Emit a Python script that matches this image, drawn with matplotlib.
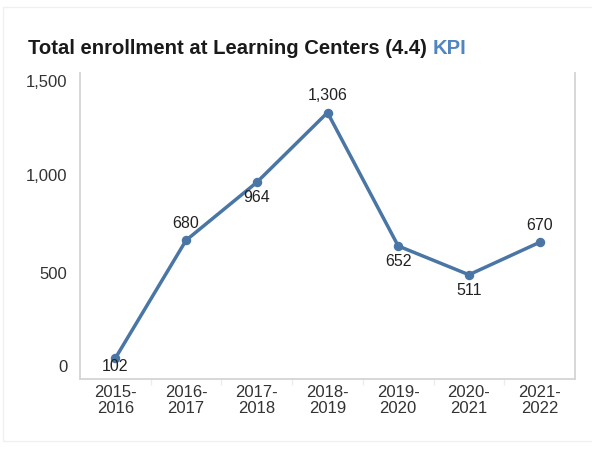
import matplotlib
matplotlib.use("Agg")
import matplotlib.pyplot as plt
from matplotlib.patches import Rectangle

# enrollment per school year
years = ["2015-\n2016", "2016-\n2017", "2017-\n2018", "2018-\n2019",
         "2019-\n2020", "2020-\n2021", "2021-\n2022"]
enrollment = [102, 680, 964, 1306, 652, 511, 670]
label_side = ["low", "above", "below", "above", "below", "below", "above"]
yticks = [0, 500, 1000, 1500]

line_col = "#4a76a6"
text_col = "#333333"
frame_col = "#d4d4d4"
font = ["Liberation Sans", "DejaVu Sans"]

fig = plt.figure(figsize=(5.92, 4.49), dpi=100)
W, H = 592, 449
ax = fig.add_axes([80 / W, 1 - 379 / H, 495 / W, 306 / H])

x = list(range(len(years)))
ax.plot(x, enrollment, color=line_col, lw=2.5, marker="o", ms=5.8,
        solid_capstyle="round", zorder=3)

# value labels (offsets in points)
offsets = {"above": 12, "below": -11, "low": -6}
for xi, v, side in zip(x, enrollment, label_side):
    ax.annotate(f"{v:,}", (xi, v), xytext=(0, offsets[side]),
                textcoords="offset points", ha="center", va="center",
                fontsize=11.5, color="#222222", family=font, zorder=4)

ax.set_xlim(-0.5, len(years) - 0.5)
ax.set_ylim(0, 1500)

ax.set_xticks(x)
ax.set_xticklabels(years, fontsize=12, color=text_col, family=font,
                   linespacing=1.1)
ax.set_xticks([i + 0.5 for i in x[:-1]], minor=True)
ax.tick_params(axis="x", which="major", length=0, pad=4)
ax.tick_params(axis="x", which="minor", length=4, color="#ececec", width=1)

# y labels sit slightly off their gridline positions
ax.set_yticks([])
ylab_shift = {0: 8, 500: 2, 1000: -1, 1500: -6.5}
for t in yticks:
    ax.annotate(f"{t:,}", (0, t), xycoords=("axes fraction", "data"),
                xytext=(-9, ylab_shift[t]), textcoords="offset points",
                ha="right", va="center", fontsize=12, color=text_col,
                family=font)

for s in ["left", "right", "bottom"]:
    ax.spines[s].set_color(frame_col)
    ax.spines[s].set_linewidth(1.3)
ax.spines["top"].set_visible(False)

# title with the KPI tag in blue
t1 = fig.text(28 / W, 1 - 48 / H, "Total enrollment at Learning Centers (4.4) ",
              fontsize=14.6, fontweight="bold", color="#1a1a1a",
              family=font, va="center")
fig.canvas.draw()
bb = t1.get_window_extent()
fig.text(bb.x1 / W, 1 - 48 / H, "KPI", fontsize=14.6, fontweight="bold",
         color="#4f86c0", family=font, va="center")

# faint card outline
fig.patches.append(Rectangle((3 / W, 8 / H), 1.2, 1 - 15 / H,
                             transform=fig.transFigure, fill=False,
                             edgecolor="#f0f0f0", lw=1))

fig.savefig("out.png", dpi=100)
